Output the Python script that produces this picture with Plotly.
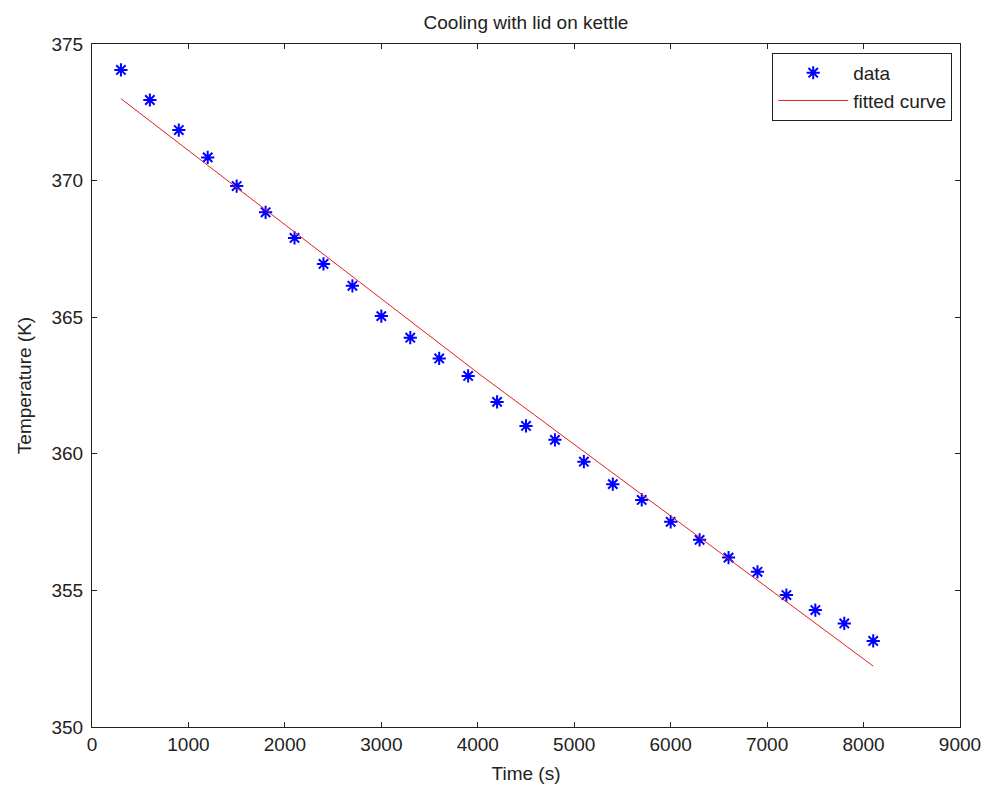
import plotly.graph_objects as go

time_s = [300, 600, 900, 1200, 1500, 1800, 2100, 2400, 2700, 3000, 3300, 3600, 3900,
          4200, 4500, 4800, 5100, 5400, 5700, 6000, 6300, 6600, 6900, 7200, 7500, 7800, 8100]
temp_k = [374.05, 372.95, 371.85, 370.85, 369.8, 368.84, 367.9, 366.95, 366.15, 365.04,
          364.25, 363.49, 362.85, 361.9, 361.02, 360.51, 359.71, 358.89, 358.31, 357.51,
          356.85, 356.2, 355.68, 354.83, 354.28, 353.79, 353.15]
fit_time = [300, 4023, 8100]
fit_temp = [373.0, 362.9, 352.23]

x_ticks = [0, 1000, 2000, 3000, 4000, 5000, 6000, 7000, 8000, 9000]
y_ticks = [350, 355, 360, 365, 370, 375]

font = "Liberation Sans, Arial, sans-serif"
fs = 19
txt = "#222222"

fig = go.Figure()
fig.add_trace(go.Scatter(
    x=time_s, y=temp_k, mode="markers", name="data",
    marker=dict(symbol="asterisk-open", size=11, color="#0000ff",
                line=dict(color="#0000ff", width=2)),
))
fig.add_trace(go.Scatter(
    x=fit_time, y=fit_temp, mode="lines", name="fitted curve",
    line=dict(color="#e02020", width=1),
))

axis_common = dict(
    showgrid=False, zeroline=False, showline=True, linecolor="#222222", linewidth=1,
    mirror="ticks", ticks="inside", ticklen=5, tickcolor="#222222", tickwidth=1,
    tickfont=dict(family=font, size=fs, color=txt), automargin=False,
)

fig.update_layout(
    width=986, height=792,
    margin=dict(l=92, r=26, t=44, b=65),
    paper_bgcolor="white", plot_bgcolor="white",
    title=dict(text="Cooling with lid on kettle", x=(92 + 960) / 2 / 986, xanchor="center",
               y=1 - 22 / 792, yanchor="middle", automargin=False,
               font=dict(family=font, size=fs, color=txt)),
    xaxis=dict(range=[0, 9000], tickvals=x_ticks,
               title=dict(text="Time (s)", font=dict(family=font, size=fs, color=txt), standoff=12),
               **axis_common),
    yaxis=dict(range=[350, 375], tickvals=y_ticks, ticklabelstandoff=4,
               title=dict(text="Temperature (K)", font=dict(family=font, size=fs, color=txt), standoff=14),
               **axis_common),
    legend=dict(x=0.991, y=0.987, xanchor="right", yanchor="top",
                bordercolor="#222222", borderwidth=1, bgcolor="white",
                font=dict(family=font, size=fs, color=txt), itemwidth=70,
                tracegroupgap=0),
    showlegend=True,
)

fig.write_html("out.html")
